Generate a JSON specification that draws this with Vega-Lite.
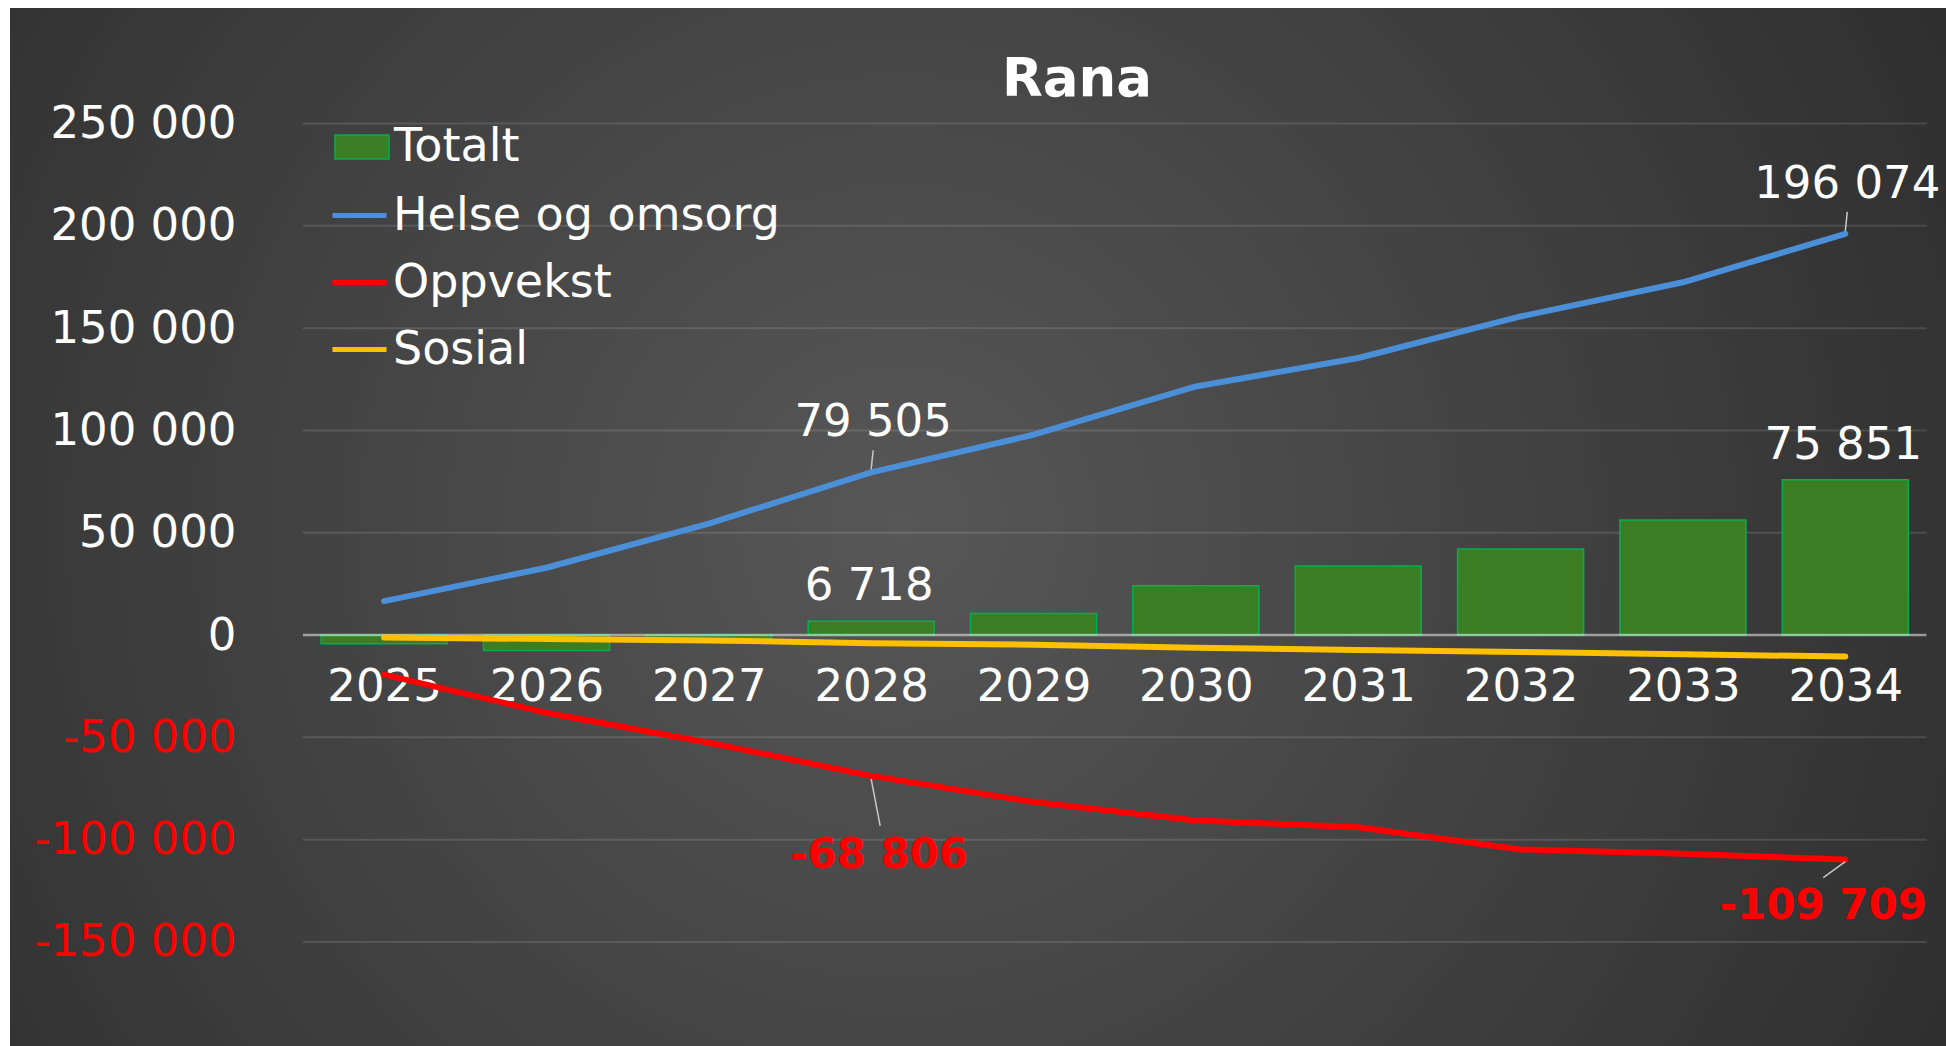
{
  "$schema": "https://vega.github.io/schema/vega-lite/v6.json",
  "width": 1946,
  "height": 1046,
  "autosize": {"type": "fit", "contains": "padding"},
  "padding": {"left": 10, "top": 8, "right": 0, "bottom": 0},
  "background": "#ffffff",
  "title": {
    "text": "Rana",
    "font": "DejaVu Sans",
    "fontSize": 53,
    "fontWeight": "bold",
    "color": "#ffffff",
    "anchor": "middle",
    "frame": "group",
    "baseline": "alphabetic",
    "offset": -141,
    "dx": 99
  },
  "config": {
    "locale": {"number": {"decimal": ",", "thousands": " ", "grouping": [3], "currency": ["", ""], "minus": "-"}},
    "view": {
      "stroke": null,
      "fill": {
        "gradient": "radial",
        "x1": 0.46, "y1": 0.5, "r1": 0,
        "x2": 0.46, "y2": 0.5, "r2": 0.75,
        "stops": [
          {"offset": 0, "color": "#575757"},
          {"offset": 1, "color": "#252525"}
        ]
      }
    }
  },
  "datasets": {
    "main": [
      {"year": 2025, "series": "Totalt", "value": -4200},
      {"year": 2026, "series": "Totalt", "value": -7500},
      {"year": 2027, "series": "Totalt", "value": -1500},
      {"year": 2028, "series": "Totalt", "value": 6718},
      {"year": 2029, "series": "Totalt", "value": 10500},
      {"year": 2030, "series": "Totalt", "value": 24100},
      {"year": 2031, "series": "Totalt", "value": 33700},
      {"year": 2032, "series": "Totalt", "value": 42000},
      {"year": 2033, "series": "Totalt", "value": 56200},
      {"year": 2034, "series": "Totalt", "value": 75851},
      {"year": 2025, "series": "Helse og omsorg", "value": 16600},
      {"year": 2026, "series": "Helse og omsorg", "value": 32900},
      {"year": 2027, "series": "Helse og omsorg", "value": 54500},
      {"year": 2028, "series": "Helse og omsorg", "value": 79505},
      {"year": 2029, "series": "Helse og omsorg", "value": 97900},
      {"year": 2030, "series": "Helse og omsorg", "value": 121500},
      {"year": 2031, "series": "Helse og omsorg", "value": 135400},
      {"year": 2032, "series": "Helse og omsorg", "value": 155700},
      {"year": 2033, "series": "Helse og omsorg", "value": 172400},
      {"year": 2034, "series": "Helse og omsorg", "value": 196074},
      {"year": 2025, "series": "Oppvekst", "value": -19300},
      {"year": 2026, "series": "Oppvekst", "value": -38000},
      {"year": 2027, "series": "Oppvekst", "value": -52600},
      {"year": 2028, "series": "Oppvekst", "value": -68806},
      {"year": 2029, "series": "Oppvekst", "value": -81600},
      {"year": 2030, "series": "Oppvekst", "value": -90600},
      {"year": 2031, "series": "Oppvekst", "value": -93900},
      {"year": 2032, "series": "Oppvekst", "value": -104800},
      {"year": 2033, "series": "Oppvekst", "value": -106900},
      {"year": 2034, "series": "Oppvekst", "value": -109709},
      {"year": 2025, "series": "Sosial", "value": -1200},
      {"year": 2026, "series": "Sosial", "value": -1900},
      {"year": 2027, "series": "Sosial", "value": -2600},
      {"year": 2028, "series": "Sosial", "value": -4000},
      {"year": 2029, "series": "Sosial", "value": -4700},
      {"year": 2030, "series": "Sosial", "value": -6200},
      {"year": 2031, "series": "Sosial", "value": -7300},
      {"year": 2032, "series": "Sosial", "value": -8300},
      {"year": 2033, "series": "Sosial", "value": -9400},
      {"year": 2034, "series": "Sosial", "value": -10500}
    ],
    "grid": [
      {"g": -150000}, {"g": -100000}, {"g": -50000}, {"g": 50000},
      {"g": 100000}, {"g": 150000}, {"g": 200000}, {"g": 250000}
    ]
  },
  "data": {"name": "main"},
  "layer": [
    {
      "data": {"name": "grid"},
      "mark": {"type": "rule", "color": "#ffffff", "strokeOpacity": 0.12, "strokeWidth": 2},
      "encoding": {
        "x": {"datum": 2024.5, "type": "quantitative", "scale": {"domain": [2022.7267, 2034.5895], "nice": false, "zero": false},
          "axis": {"orient": "bottom", "offset": -411, "values": [2025, 2026, 2027, 2028, 2029, 2030, 2031, 2032, 2033, 2034], "format": "d", "grid": false, "domain": false, "ticks": false, "tickSize": 0, "labelPadding": 29, "labelFont": "DejaVu Sans", "labelFontSize": 45, "labelColor": "#ffffff", "title": null, "labelFlush": false, "labelOverlap": false, "labelLimit": 0}},
        "x2": {"datum": 2034.5},
        "y": {"field": "g", "type": "quantitative", "scale": {"domain": [-200825, 306445], "nice": false, "zero": false},
          "axis": {"orient": "left", "offset": -290, "values": [-150000, -100000, -50000, 0, 50000, 100000, 150000, 200000, 250000], "format": ",d", "grid": false, "domain": false, "ticks": false, "tickSize": 0, "labelPadding": 64, "labelFont": "DejaVu Sans", "labelFontSize": 45, "labelLimit": 0, "labelColor": {"condition": {"test": "datum.value < 0", "value": "#ff0000"}, "value": "#ffffff"}, "title": null}}
      }
    },
    {
      "transform": [{"filter": "datum.series === 'Totalt'"}],
      "mark": {"type": "bar", "width": 126, "stroke": "#00B050", "strokeWidth": 1.5},
      "encoding": {
        "x": {"field": "year", "type": "quantitative"},
        "y": {"field": "value", "type": "quantitative"},
        "fill": {
          "field": "series", "type": "nominal",
          "scale": {"domain": ["Totalt"], "range": ["#3A7D22"]},
          "legend": {
            "orient": "none", "legendX": 324, "legendY": 111, "title": null, "padding": 0,
            "labelFont": "DejaVu Sans", "labelFontSize": 46, "labelColor": "#ffffff", "labelOffset": 4, "labelLimit": 0,
            "symbolType": "M-1,-0.444H1V0.444H-1Z", "symbolSize": 2916,
            "symbolStrokeColor": "#00B050", "symbolStrokeWidth": 1.5, "symbolOpacity": 1
          }
        }
      }
    },
    {
      "data": {"values": [{}]},
      "mark": {"type": "rule", "color": "#ffffff", "strokeOpacity": 0.5, "strokeWidth": 2.5},
      "encoding": {
        "x": {"datum": 2024.5, "type": "quantitative"},
        "x2": {"datum": 2034.5},
        "y": {"datum": 0, "type": "quantitative"}
      }
    },
    {
      "transform": [{"filter": "datum.series !== 'Totalt'"}],
      "mark": {"type": "line", "strokeWidth": 6, "strokeCap": "round", "strokeJoin": "round"},
      "encoding": {
        "x": {"field": "year", "type": "quantitative"},
        "y": {"field": "value", "type": "quantitative"},
        "stroke": {
          "field": "series", "type": "nominal",
          "scale": {"domain": ["Helse og omsorg", "Oppvekst", "Sosial"], "range": ["#4A8FD8", "#FF0000", "#FFC000"]},
          "legend": {
            "orient": "none", "legendX": 320, "legendY": 178, "title": null, "padding": 0,
            "labelFont": "DejaVu Sans", "labelFontSize": 46, "labelColor": "#ffffff", "labelOffset": 4, "labelLimit": 0,
            "symbolType": "stroke", "symbolSize": 2916, "symbolStrokeWidth": 5, "symbolOpacity": 1, "rowPadding": 14
          }
        }
      }
    },
    {
      "transform": [{"filter": "datum.series === 'Helse og omsorg' && (datum.year === 2028 || datum.year === 2034)"}],
      "mark": {"type": "rule", "color": "#c8c8c8", "strokeWidth": 1.5, "yOffset": -3, "y2Offset": -22, "x2Offset": 2},
      "encoding": {
        "x": {"field": "year", "type": "quantitative"},
        "x2": {"field": "year"},
        "y": {"field": "value", "type": "quantitative"},
        "y2": {"field": "value"}
      }
    },
    {
      "transform": [{"filter": "datum.series === 'Oppvekst' && datum.year === 2028"}],
      "mark": {"type": "rule", "color": "#c8c8c8", "strokeWidth": 1.5, "yOffset": 3, "y2Offset": 50, "x2Offset": 9},
      "encoding": {
        "x": {"field": "year", "type": "quantitative"},
        "x2": {"field": "year"},
        "y": {"field": "value", "type": "quantitative"},
        "y2": {"field": "value"}
      }
    },
    {
      "transform": [{"filter": "datum.series === 'Oppvekst' && datum.year === 2034"}],
      "mark": {"type": "rule", "color": "#c8c8c8", "strokeWidth": 1.5, "yOffset": 2, "y2Offset": 18, "x2Offset": -22},
      "encoding": {
        "x": {"field": "year", "type": "quantitative"},
        "x2": {"field": "year"},
        "y": {"field": "value", "type": "quantitative"},
        "y2": {"field": "value"}
      }
    },
    {
      "transform": [{"filter": "datum.series === 'Helse og omsorg' && (datum.year === 2028 || datum.year === 2034)"}],
      "mark": {"type": "text", "font": "DejaVu Sans", "fontSize": 45, "color": "#ffffff", "dy": -50, "dx": 2, "baseline": "middle", "align": "center"},
      "encoding": {
        "x": {"field": "year", "type": "quantitative"},
        "y": {"field": "value", "type": "quantitative"},
        "text": {"field": "value", "format": ",d"}
      }
    },
    {
      "transform": [{"filter": "datum.series === 'Totalt' && (datum.year === 2028 || datum.year === 2034)"}],
      "mark": {"type": "text", "font": "DejaVu Sans", "fontSize": 45, "color": "#ffffff", "dy": -35, "dx": -2, "baseline": "middle", "align": "center"},
      "encoding": {
        "x": {"field": "year", "type": "quantitative"},
        "y": {"field": "value", "type": "quantitative"},
        "text": {"field": "value", "format": ",d"}
      }
    },
    {
      "transform": [{"filter": "datum.series === 'Oppvekst' && datum.year === 2028"}],
      "mark": {"type": "text", "font": "DejaVu Sans", "fontSize": 42, "fontWeight": "bold", "color": "#ff0000", "dy": 79, "dx": 8, "baseline": "middle", "align": "center"},
      "encoding": {
        "x": {"field": "year", "type": "quantitative"},
        "y": {"field": "value", "type": "quantitative"},
        "text": {"field": "value", "format": ",d"}
      }
    },
    {
      "transform": [{"filter": "datum.series === 'Oppvekst' && datum.year === 2034"}],
      "mark": {"type": "text", "font": "DejaVu Sans", "fontSize": 42, "fontWeight": "bold", "color": "#ff0000", "dy": 46, "dx": -22, "baseline": "middle", "align": "center"},
      "encoding": {
        "x": {"field": "year", "type": "quantitative"},
        "y": {"field": "value", "type": "quantitative"},
        "text": {"field": "value", "format": ",d"}
      }
    }
  ]
}
